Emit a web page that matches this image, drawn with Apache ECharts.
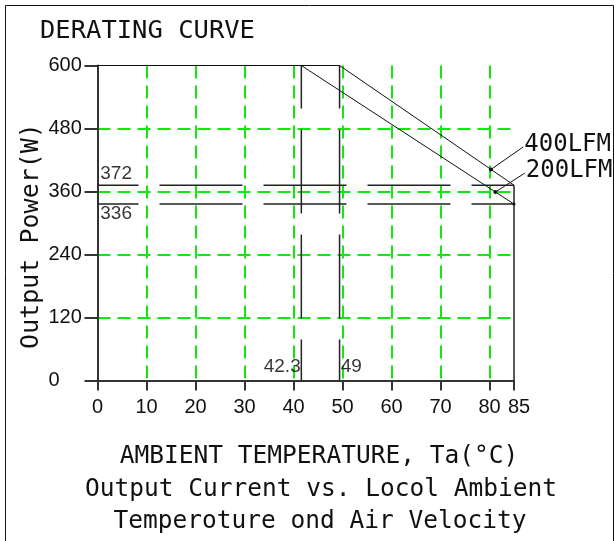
<!DOCTYPE html>
<html><head><meta charset="utf-8">
<script src="https://cdn.jsdelivr.net/npm/echarts@6/dist/echarts.min.js"></script>
<style>html,body{margin:0;padding:0;background:#fff}#c{width:614px;height:541px}</style>
</head><body><div id="c"></div><script>
// ---- data ----
const xMin = 0, xMax = 85, xStep = 10;                    // temperature axis (°C)
const yMin = 0, yMax = 600, yStep = 120;                  // power axis (W)
const curve400X = [0, 49.4, 85];
const curve400Y = [600, 600, 372];
const curve200X = [0, 41.6, 85];
const curve200Y = [600, 600, 336];
const kneeTemps = [41.6, 49.4];                           // dashed black verticals
const levelPowers = [372, 336];                           // dashed black horizontals
const annoText = ['372', '336', '42.3', '49'];
const annoX = [3.8, 3.8, 37.7, 51.8];
const annoY = [394, 318, 26.6, 25.6];
const leaderNames = ['400LFM', '200LFM'];
const leaderFromX = [80.3, 81.2];
const leaderFromY = [402, 359];
const leaderToX = [86.9, 87.2];
const leaderToY = [445, 395];

const DIG = "'Liberation Sans', Arial, sans-serif";
const GREEN = '#10e810';
const INK = '#111';

const chart = echarts.init(document.getElementById('c'), null, {renderer: 'canvas'});
const zip = (xs, ys) => xs.map((x, i) => [x, ys[i]]);

const series = [];
// curves
series.push({type: 'line', name: '400LFM', data: zip(curve400X, curve400Y), symbol: 'none',
  lineStyle: {color: INK, width: 1}, z: 5, silent: true});
series.push({type: 'line', name: '200LFM',
  data: zip(curve200X, curve200Y).map((p, i) => i === 2 ? {value: p, symbol: 'circle', symbolSize: 3} : {value: p}),
  symbol: 'none', showSymbol: true, itemStyle: {color: INK},
  lineStyle: {color: INK, width: 1}, z: 5, silent: true});
// right edge at 85 °C
series.push({type: 'line', data: [[curve400X[2], curve400Y[2]], [curve400X[2], 0]], symbol: 'none',
  lineStyle: {color: '#222', width: 1.5}, z: 5, silent: true});
// dashed knee verticals
kneeTemps.forEach(t => series.push({type: 'line', data: [[t, 600], [t, 0]], symbol: 'none',
  lineStyle: {color: '#222', width: 1.5, type: [84, 21], dashOffset: 41}, z: 4, silent: true}));
// dashed level horizontals
levelPowers.forEach(p => series.push({type: 'line', data: [[0, p], [85, p]], symbol: 'none',
  lineStyle: {color: '#222', width: 1.5, type: [83, 21], dashOffset: 42}, z: 4, silent: true}));
// annotations
series.push({type: 'scatter', symbolSize: 0, silent: true, z: 7,
  data: annoText.map((t, i) => ({value: [annoX[i], annoY[i]], name: t})),
  label: {show: true, position: 'inside', formatter: '{b}', fontFamily: DIG, fontSize: 19, color: '#000'}
});

const baseGraphics = [
  {type: 'rect', shape: {x: 5.5, y: 5.5, width: 608, height: 560}, style: {fill: null, stroke: '#111', lineWidth: 1}, silent: true},
  {type: 'text', left: 40, top: 18, style: {text: 'DERATING CURVE', font: "25.5px 'DejaVu Sans Mono', monospace", fill: INK}},
  {type: 'text', x: 31, y: 236, rotation: Math.PI / 2,
   style: {text: 'Output Power(W)', font: "25px 'DejaVu Sans Mono', monospace", fill: INK, align: 'center', verticalAlign: 'middle'}},
  {type: 'text', x: 319, y: 457, style: {text: 'AMBIENT TEMPERATURE, Ta(°C)', font: "24.5px 'DejaVu Sans Mono', monospace", fill: INK, align: 'center', verticalAlign: 'middle'}},
  {type: 'text', x: 321, y: 489.5, style: {text: 'Output Current vs. Locol Ambient', font: "24.5px 'DejaVu Sans Mono', monospace", fill: INK, align: 'center', verticalAlign: 'middle'}},
  {type: 'text', x: 320, y: 521.5, style: {text: 'Temperoture ond Air Velocity', font: "24.5px 'DejaVu Sans Mono', monospace", fill: INK, align: 'center', verticalAlign: 'middle'}}
];

const gridLine = {show: true, showMinLine: false, showMaxLine: false,
  lineStyle: {color: GREEN, width: 2, type: [13, 7]}};

chart.setOption({
  animation: false,
  backgroundColor: '#fff',
  grid: {left: 97.5, right: 100, top: 65.5, bottom: 160.5, containLabel: false},
  xAxis: {
    type: 'value', min: xMin, max: xMax, interval: xStep,
    axisLine: {show: true, lineStyle: {color: '#333', width: 2}},
    axisTick: {show: true, length: 10, lineStyle: {color: '#333', width: 2}},
    splitLine: gridLine,
    axisLabel: {margin: 17, fontFamily: DIG, fontSize: 20, color: INK, showMaxLabel: true, showMinLabel: true, hideOverlap: false,
      formatter: v => v === xMax ? '{r|' + v + '}' : String(v),
      rich: {r: {fontFamily: DIG, fontSize: 20, color: INK, padding: [0, 0, 0, 10]}}}
  },
  yAxis: {
    type: 'value', min: yMin, max: yMax, interval: yStep,
    axisLine: {show: true, lineStyle: {color: '#333', width: 2}},
    axisTick: {show: true, length: 13, lineStyle: {color: '#333', width: 2}},
    splitLine: gridLine,
    axisLabel: {margin: 49, align: 'left', fontFamily: DIG, fontSize: 20, color: INK, padding: [13, 0, 0, 0]}
  },
  graphic: baseGraphics,
  series: series
});

// leader lines with labels, positioned through the chart's own scales
const extra = [];
leaderNames.forEach((n, i) => {
  const a = chart.convertToPixel({gridIndex: 0}, [leaderFromX[i], leaderFromY[i]]);
  const b = chart.convertToPixel({gridIndex: 0}, [leaderToX[i], leaderToY[i]]);
  extra.push({type: 'line', shape: {x1: a[0], y1: a[1], x2: b[0], y2: b[1]}, style: {stroke: INK, lineWidth: 1}, z: 10, silent: true});
  extra.push({type: 'circle', shape: {cx: a[0], cy: a[1], r: 2}, style: {fill: INK}, z: 10, silent: true});
  extra.push({type: 'text', x: b[0] + 1, y: b[1] - 2, z: 10,
    style: {text: n, font: "24px 'DejaVu Sans Mono', monospace", fill: INK, align: 'left', verticalAlign: 'middle'}});
});
chart.setOption({graphic: baseGraphics.concat(extra)});
</script></body></html>
